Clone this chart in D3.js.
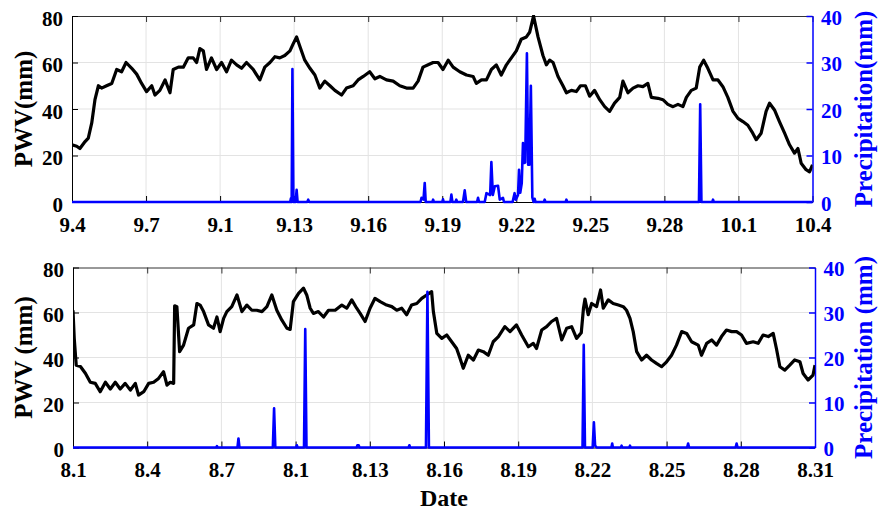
<!DOCTYPE html>
<html>
<head>
<meta charset="utf-8">
<script src="https://cdn.jsdelivr.net/npm/d3@7"></script>
<style>
  body { margin: 0; background: #fff; }
  svg { display: block; }
</style>
</head>
<body>
<div id="chart"></div>
<script>
// days counted from the first tick of each panel (9.4 and 8.1)
const dayTicks = [0, 3, 6, 9, 12, 15, 18, 21, 24, 27, 30];
const ticksSep = ['9.4', '9.7', '9.1', '9.13', '9.16', '9.19', '9.22', '9.25', '9.28', '10.1', '10.4'];
const ticksAug = ['8.1', '8.4', '8.7', '8.1', '8.13', '8.16', '8.19', '8.22', '8.25', '8.28', '8.31'];
const pwvTicks = [0, 20, 40, 60, 80];
const rainTicks = [0, 10, 20, 30, 40];

// [day, PWV mm]
const pwvSep = [[0,24.6],[0.19,24],[0.32,23],[0.53,26],[0.66,27.5],[0.8,34],[0.93,44],[1.07,50],[1.2,49],[1.4,50],[1.61,51],[1.81,57],[2.01,56],[2.19,60],[2.42,57.5],[2.62,55],[2.82,51],[3.02,47.5],[3.23,50],[3.36,46],[3.56,48],[3.77,52.5],[3.97,47],[4.1,57],[4.31,58],[4.51,58],[4.71,62],[4.91,62],[5.05,60],[5.18,66],[5.32,65],[5.45,57],[5.65,62],[5.86,57],[6.06,60],[6.26,56],[6.46,61],[6.67,59],[6.87,57.5],[7.07,60],[7.34,57],[7.61,52.5],[7.81,58],[8.02,60],[8.22,62.5],[8.42,62],[8.62,63],[8.83,65],[8.96,68],[9.1,71],[9.23,67],[9.43,61],[9.64,57.5],[9.84,54.6],[10.04,49],[10.24,52],[10.45,50],[10.65,48],[10.92,46],[11.12,49],[11.39,50],[11.59,52.5],[11.8,54],[12.06,56],[12.27,53],[12.47,54],[12.74,52.5],[13.01,52],[13.28,50],[13.55,49],[13.82,49],[14.02,52],[14.22,58],[14.43,59],[14.63,60],[14.83,60],[15.03,57],[15.24,61],[15.44,58],[15.71,56],[15.98,54.6],[16.25,54],[16.38,51],[16.59,52.5],[16.79,52.5],[16.99,57],[17.19,59],[17.39,54.6],[17.6,59],[17.8,62],[18.0,65],[18.2,70],[18.41,71],[18.54,73],[18.7,80],[18.88,71],[19.08,63],[19.22,59],[19.35,61],[19.49,60],[19.69,54],[19.89,50],[20.03,47],[20.23,48],[20.43,47.5],[20.6,50],[20.8,50],[20.97,45.5],[21.17,48],[21.38,44],[21.58,41],[21.78,39],[21.98,42.5],[22.19,45],[22.32,52],[22.52,47],[22.73,49],[22.93,50],[23.13,49.6],[23.33,51],[23.47,45],[23.74,44.6],[23.94,44],[24.14,42],[24.35,41],[24.55,42],[24.75,41],[24.89,45],[25.09,48],[25.29,49],[25.43,58],[25.59,61],[25.76,57.5],[25.97,52.5],[26.17,52.5],[26.37,49.6],[26.57,45],[26.78,39],[26.98,36],[27.18,34.6],[27.38,33],[27.58,29.6],[27.72,26.8],[27.92,29.6],[28.12,39],[28.26,42.5],[28.46,39.6],[28.66,34.6],[28.87,29.6],[29.07,24.6],[29.27,21],[29.41,23],[29.54,16.7],[29.74,13.9],[29.88,13],[30,16]];

// [day, precipitation mm]
const precipSep = [[0,0],[8.84,0],[8.87,0.8],[8.9,0],[8.93,28.6],[8.97,0],[9.06,0],[9.1,2.6],[9.14,0],[9.53,0],[9.57,0.5],[9.61,0],[14.12,0],[14.16,0.9],[14.24,0.5],[14.29,4.1],[14.33,0],[14.6,0],[14.63,0.5],[14.66,0],[15.0,0],[15.03,0.6],[15.06,0],[15.33,0],[15.37,1.6],[15.41,0],[15.54,0],[15.57,0.5],[15.6,0],[15.84,0],[15.91,2.5],[15.97,0],[16.41,0],[16.45,0.9],[16.49,0],[16.72,0],[16.79,1.9],[16.94,1.5],[16.99,8.6],[17.05,1.5],[17.13,3.4],[17.26,3.5],[17.33,0.5],[17.46,0.9],[17.5,0],[17.85,0],[17.93,1.9],[17.98,0.5],[18.07,1.5],[18.11,6.9],[18.16,2],[18.22,4],[18.27,12.7],[18.31,8.4],[18.36,8.5],[18.43,32],[18.48,8],[18.53,8],[18.59,25],[18.65,1],[18.7,0],[18.74,0.7],[18.78,0],[19.12,0],[19.15,0.5],[19.18,0],[20.0,0],[20.03,0.5],[20.06,0],[25.4,0],[25.45,21],[25.5,0],[25.94,0],[25.97,0.5],[26.0,0],[30,0]];

const pwvAug = [[0,61],[0.05,48.5],[0.13,36.6],[0.3,36],[0.5,33],[0.7,29],[0.9,28.5],[1.1,24.8],[1.31,29],[1.51,26],[1.71,29],[1.91,26],[2.11,28.5],[2.32,25.5],[2.52,28.5],[2.65,23.3],[2.86,24.8],[3.06,28.5],[3.26,29],[3.46,30.7],[3.66,33.7],[3.8,27.7],[3.93,29],[4.07,28.5],[4.11,63],[4.2,62.6],[4.31,42.6],[4.47,45.5],[4.67,53],[4.88,54.5],[5.01,64],[5.14,63.3],[5.28,60.4],[5.48,54.5],[5.68,53],[5.82,58],[5.95,51.5],[6.09,57.4],[6.22,60.4],[6.42,62.6],[6.63,67.8],[6.83,60.4],[7.03,63.3],[7.23,61],[7.43,61],[7.64,60.4],[7.84,62.6],[8.04,67.8],[8.24,61],[8.44,56.7],[8.65,53],[8.78,52.5],[8.91,64.8],[9.12,68.5],[9.32,70.8],[9.45,67.8],[9.59,61.9],[9.72,59.6],[9.92,60.4],[10.13,58],[10.33,61],[10.6,61],[10.87,63.3],[11.07,61.9],[11.27,65.6],[11.47,61.9],[11.61,59.6],[11.81,56],[12.01,61.9],[12.21,66.3],[12.42,64.8],[12.68,63.3],[12.89,62.6],[13.09,61],[13.29,61.9],[13.49,59],[13.69,63.3],[13.9,64],[14.1,66.3],[14.3,67.8],[14.5,69.3],[14.57,60.4],[14.71,50.7],[14.91,48.5],[15.11,50],[15.31,47],[15.51,44],[15.65,39.6],[15.78,35.2],[15.98,41],[16.19,38.9],[16.39,43.3],[16.59,42.6],[16.79,41],[16.99,47],[17.2,49.3],[17.46,53.7],[17.67,51.5],[17.93,54.5],[18.14,50],[18.41,44.8],[18.61,46.3],[18.74,44],[18.95,52.2],[19.15,53.7],[19.35,56],[19.55,57.4],[19.76,47.8],[19.96,53],[20.16,53.7],[20.36,48.5],[20.55,51],[20.64,62],[20.7,66],[20.83,59],[20.97,64],[21.17,62.6],[21.33,70],[21.44,61.9],[21.64,65.6],[21.84,64],[22.05,63.3],[22.25,62.6],[22.38,61],[22.52,57.4],[22.65,51.5],[22.79,42.6],[22.99,38.9],[23.19,41],[23.39,38.9],[23.59,37.4],[23.8,35.9],[24.0,38.1],[24.2,41],[24.4,45.5],[24.61,51.5],[24.81,50.7],[25.01,47],[25.28,45.5],[25.41,41],[25.62,46.3],[25.82,47.8],[26.02,45.5],[26.22,49.3],[26.42,52.2],[26.63,51.5],[26.83,51.5],[27.03,50],[27.23,46.3],[27.5,47],[27.7,46.3],[27.9,50],[28.11,49.3],[28.31,50.7],[28.44,44],[28.58,35.9],[28.78,34.4],[28.98,36.6],[29.18,38.9],[29.39,38.1],[29.52,32.9],[29.72,30],[29.92,32.2],[30,36.6]];

const precipAug = [[0,0],[5.79,0],[5.82,0.3],[5.85,0],[6.65,0],[6.69,2],[6.73,0],[8.08,0],[8.13,8.7],[8.18,0],[9.02,0],[9.05,0.5],[9.08,0],[9.34,0],[9.39,26.3],[9.44,0],[11.47,0],[11.5,0.5],[11.55,0.5],[11.58,0],[13.57,0],[13.6,0.5],[13.63,0],[14.27,0],[14.33,34.6],[14.39,0],[20.6,0],[20.65,22.8],[20.7,0],[21.01,0],[21.06,5.6],[21.11,0.4],[21.17,0],[21.77,0],[21.8,0.9],[21.83,0],[22.15,0],[22.18,0.4],[22.21,0],[22.49,0],[22.52,0.4],[22.55,0],[24.83,0],[24.87,0.9],[24.91,0],[26.79,0],[26.83,0.9],[26.87,0],[30,0]];

const width = 880, height = 510;
const blue = '#0000ff';
const serif = '"Liberation Serif", "Times New Roman", serif';

const svg = d3.select('#chart').append('svg')
    .attr('width', width)
    .attr('height', height)
    .attr('font-family', serif)
    .attr('font-weight', 'bold');

const panels = [
    {id: 'sep', top: 16, bottom: 202, left: 72, right: 812.5, pwv: pwvSep, rain: precipSep, ticks: ticksSep, yLabel: 'PWV(mm)', rLabel: 'Precipitation(mm)'},
    {id: 'aug', top: 267.5, bottom: 447.5, left: 73, right: 815, pwv: pwvAug, rain: precipAug, ticks: ticksAug, yLabel: 'PWV (mm)', rLabel: 'Precipitation (mm)'}
];

function styleText(sel, color) {
    sel.style('font-family', serif)
        .style('font-weight', 'bold')
        .style('font-size', '21px')
        .attr('fill', color);
}

panels.forEach(p => {
    const x = d3.scaleLinear().domain([0, 30]).range([p.left, p.right]);
    const y = d3.scaleLinear().domain([0, 80]).range([p.bottom, p.top]);
    const yr = d3.scaleLinear().domain([0, 40]).range([p.bottom, p.top]);
    const midY = (p.top + p.bottom) / 2;

    const g = svg.append('g').attr('id', p.id);

    g.append('clipPath').attr('id', 'clip-' + p.id)
        .append('rect')
        .attr('x', p.left).attr('y', p.top - 1)
        .attr('width', p.right - p.left).attr('height', p.bottom - p.top + 4);

    // grid
    g.selectAll('.vgrid').data(dayTicks.slice(1, -1)).enter().append('line')
        .attr('x1', d => x(d)).attr('x2', d => x(d))
        .attr('y1', p.top).attr('y2', p.bottom)
        .style('stroke', '#e3e3e3').style('stroke-width', 1);
    g.selectAll('.hgrid').data(pwvTicks.slice(1, -1)).enter().append('line')
        .attr('x1', p.left).attr('x2', p.right)
        .attr('y1', d => y(d)).attr('y2', d => y(d))
        .style('stroke', '#e3e3e3').style('stroke-width', 1);

    // axes
    const top = g.append('g')
        .attr('transform', `translate(0, ${p.top})`)
        .call(d3.axisTop(x).tickValues(dayTicks).tickSizeInner(-6).tickSizeOuter(0).tickFormat(''));
    top.selectAll('path, line').style('stroke', '#333');

    const bottom = g.append('g')
        .attr('transform', `translate(0, ${p.bottom})`)
        .call(d3.axisBottom(x).tickValues(dayTicks).tickSizeInner(-6).tickSizeOuter(0)
            .tickPadding(15).tickFormat((d, i) => p.ticks[i]));
    bottom.selectAll('path, line').style('stroke', '#000');
    styleText(bottom.selectAll('text'), '#000');

    const left = g.append('g')
        .attr('transform', `translate(${p.left}, 0)`)
        .call(d3.axisLeft(y).tickValues(pwvTicks).tickSizeInner(-6).tickSizeOuter(0).tickPadding(9));
    left.selectAll('path, line').style('stroke', '#000');
    styleText(left.selectAll('text'), '#000');
    left.selectAll('text').attr('dy', '0.43em');

    const right = g.append('g')
        .attr('transform', `translate(${p.right}, 0)`)
        .call(d3.axisRight(yr).tickValues(rainTicks).tickSizeInner(-6).tickSizeOuter(0).tickPadding(8.5));
    right.selectAll('path, line').style('stroke', blue).style('stroke-width', 1.5);
    styleText(right.selectAll('text'), blue);
    right.selectAll('text').attr('dy', '0.4em');

    // PWV line
    const pwvLine = d3.line().x(d => x(d[0])).y(d => y(d[1]));
    g.append('path')
        .datum(p.pwv)
        .attr('clip-path', `url(#clip-${p.id})`)
        .attr('d', pwvLine)
        .style('fill', 'none')
        .style('stroke', '#000')
        .style('stroke-width', 3.2)
        .style('stroke-linejoin', 'round');

    // precipitation line
    const rainLine = d3.line().x(d => x(d[0])).y(d => yr(d[1]));
    g.append('path')
        .datum(p.rain)
        .attr('clip-path', `url(#clip-${p.id})`)
        .attr('d', rainLine)
        .style('fill', 'none')
        .style('stroke', blue)
        .style('stroke-width', 2.6)
        .style('stroke-linejoin', 'round');

    // axis labels
    g.append('text').text(p.yLabel)
        .attr('transform', `translate(32, ${midY}) rotate(-90)`)
        .attr('text-anchor', 'middle')
        .style('font-size', '25px');
    g.append('text').text(p.rLabel)
        .attr('transform', `translate(872, ${midY}) rotate(-90)`)
        .attr('text-anchor', 'middle')
        .attr('fill', blue)
        .style('font-size', '25px');
});

svg.append('text').text('Date')
    .attr('x', (73 + 815) / 2)
    .attr('y', 506)
    .attr('text-anchor', 'middle')
    .style('font-size', '24px');
</script>
</body>
</html>
